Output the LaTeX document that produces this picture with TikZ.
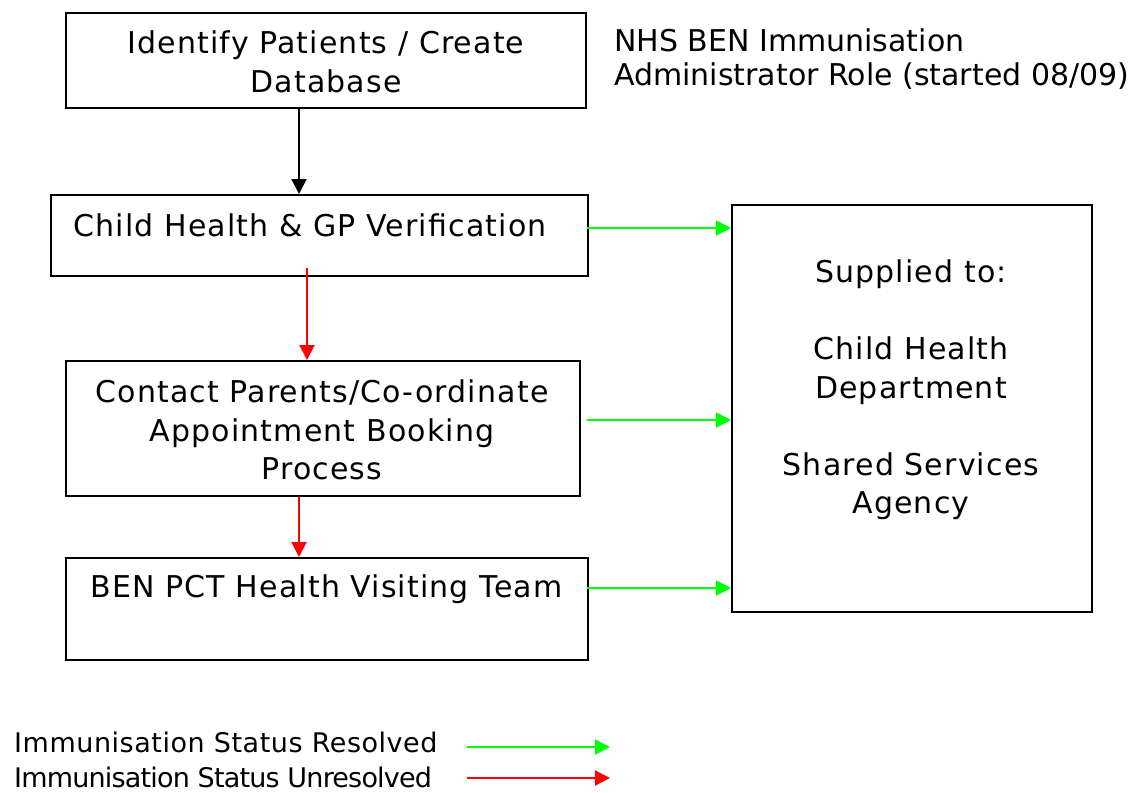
\documentclass[tikz,border=0pt]{standalone}
\usepackage{fontspec}
\setmainfont{DejaVu Sans}
\newfontfamily\boxfont{DejaVu Sans}[LetterSpace=3.8]
\newfontfamily\legafont{DejaVu Sans}[LetterSpace=2]
\newfontfamily\legbfont{DejaVu Sans}[LetterSpace=-3]
\usetikzlibrary{arrows.meta}
\definecolor{grn}{RGB}{0,255,0}
\definecolor{rd}{RGB}{255,0,0}
\begin{document}
\begin{tikzpicture}[x=1pt,y=-1pt,
  box/.style={draw=black,line width=2pt,rectangle,inner sep=0pt,anchor=north west},
  txt/.style={font=\boxfont\fontsize{30}{38.5}\selectfont,align=center,inner sep=0pt,anchor=center},
  note/.style={font=\fontsize{30}{34}\selectfont,align=left,inner sep=0pt,anchor=west},
  leg/.style={inner sep=0pt,anchor=west},
  arr/.style={line width=2pt,-{Triangle[length=15pt,width=15pt]}},
]
\useasboundingbox (0,0) rectangle (1139,792);
% boxes
\node[box,minimum width=520pt,minimum height=95pt] (b1) at (65,12) {};
\node[box,minimum width=537pt,minimum height=81pt] (b2) at (50,194) {};
\node[box,minimum width=514pt,minimum height=135pt] (b3) at (65,360) {};
\node[box,minimum width=522pt,minimum height=102pt] (b4) at (65,557) {};
\node[box,minimum width=360pt,minimum height=407pt] (sup) at (731,204) {};
% texts
\node[txt] (t1) at (326,62) {Identify Patients / Create\\Database};
\node[note] (t0) at (614,59) {NHS BEN Immunisation\\Administrator Role (started 08/09)};
\node[txt] (t2) at (310,225) {Child Health \& GP Verification};
\node[txt] (t3) at (322,430) {Contact Parents/Co-ordinate\\Appointment Booking\\Process};
\node[txt] (t4) at (326.5,589) {BEN PCT Health Visiting Team};
\node[txt] (t5) at (911,390) {Supplied to:\\[38.5pt]Child Health\\Department\\[38.5pt]Shared Services\\Agency};
\node[leg,font=\legafont\fontsize{27}{30}\selectfont] (l1) at (14,742) {Immunisation Status Resolved};
\node[leg,font=\legbfont\fontsize{27}{30}\selectfont] (l2) at (14,777) {Immunisation Status Unresolved};
% helper coordinates
\coordinate (xa) at (299,0);
\coordinate (xb) at (307,268);
\coordinate (ga) at (587,228);
\coordinate (gb) at (587,420);
\coordinate (gc) at (587,588);
\coordinate (la) at (467,747);
\coordinate (lb) at (610,747);
\coordinate (lc) at (467,778);
\coordinate (ld) at (610,778);
% connectors
\draw[arr,black] (b1.south -| xa) -- (b2.north -| xa);
\draw[arr,rd] (xb) -- (b3.north -| xb);
\draw[arr,rd] (b3.south -| xa) -- (b4.north -| xa);
\draw[arr,grn] (ga) -- (ga -| sup.west);
\draw[arr,grn] (gb) -- (gb -| sup.west);
\draw[arr,grn] (gc) -- (gc -| sup.west);
\draw[arr,grn] (la) -- (lb);
\draw[arr,rd] (lc) -- (ld);
\end{tikzpicture}
\end{document}
